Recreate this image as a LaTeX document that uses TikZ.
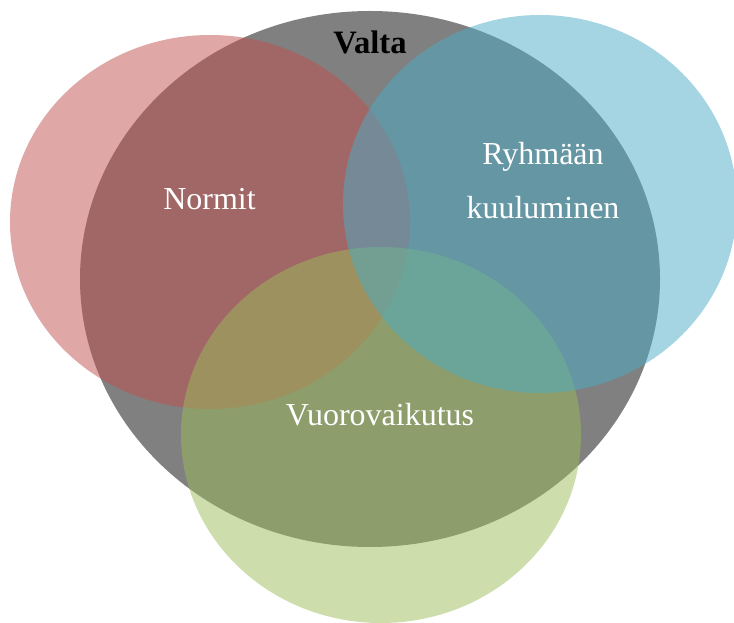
\documentclass[tikz,border=0pt]{standalone}
\usepackage{fontspec}
\setmainfont{Liberation Serif}
\definecolor{valtagrey}{HTML}{808080}
\definecolor{normitred}{HTML}{C0504D}
\definecolor{ryhmablue}{HTML}{4BACC6}
\definecolor{vuorogreen}{HTML}{9BBB59}
\tikzset{
  blob/.style={fill opacity=0.5},
  venntext/.style={text=white, font=\fontsize{24}{40.5}\selectfont, anchor=base, inner sep=0pt},
}

\begin{document}
\begin{tikzpicture}[x=0.75pt,y=-0.75pt]
\useasboundingbox (0,0) rectangle (734,623);

% big circle:
\fill[valtagrey] (370,279) ellipse [x radius=290, y radius=268];
\node[venntext, text=black, font=\fontsize{24.5}{28}\selectfont\bfseries] (valta) at (370,54) {Valta};

% three small circles:
\fill[normitred, blob] (210,222) ellipse [x radius=200, y radius=187];
\fill[vuorogreen, blob] (381,435) ellipse [x radius=200, y radius=188];
\fill[ryhmablue, blob] (540,204) ellipse [x radius=197, y radius=189];

\node[venntext] (normit) at (209.5,210) {Normit};
\node[venntext, align=center] (ryhma) at (543,219) {Ryhmään\\kuuluminen};
\node[venntext] (vuoro) at (380,425) {Vuorovaikutus};

\end{tikzpicture}
\end{document}
